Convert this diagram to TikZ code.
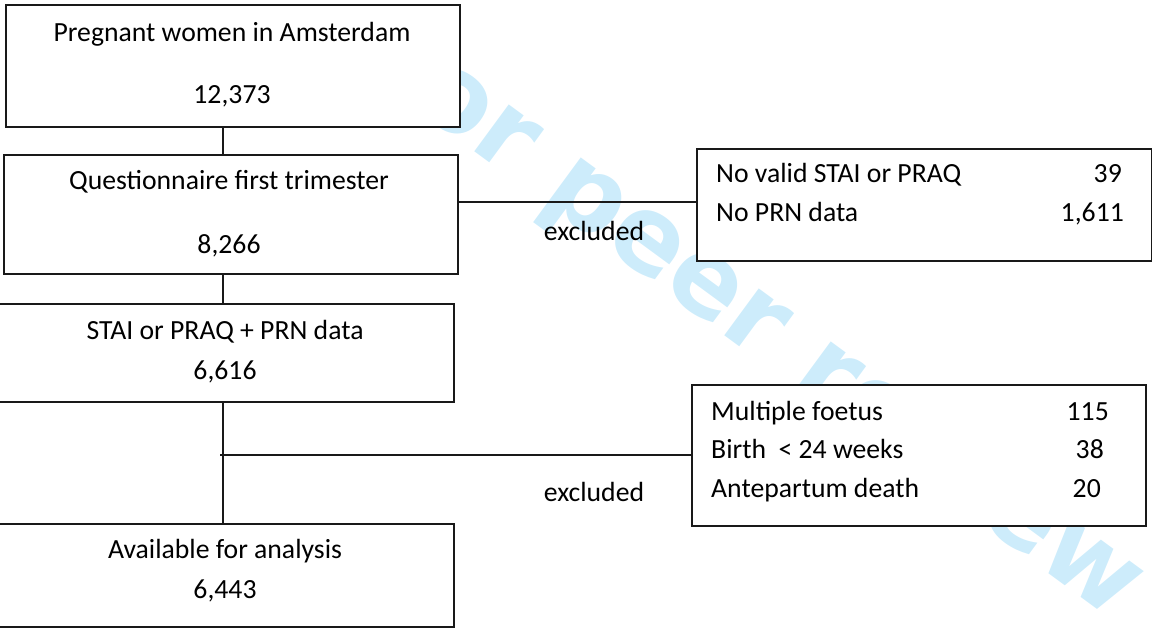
\documentclass[tikz,border=0pt]{standalone}
\usepackage{fontspec}
\setmainfont{Carlito}
\newfontfamily\wmfont{DejaVu Sans}
\definecolor{wm}{RGB}{205,236,251}
\definecolor{ln}{RGB}{25,25,25}
\begin{document}
\begin{tikzpicture}[x=1pt,y=-1pt,
  box/.style={draw=ln, line width=1.6pt, fill=white, inner sep=0pt, anchor=north west},
  txt/.style={inner sep=0pt, font=\fontsize{27.7}{33}\selectfont},
  conn/.style={draw=ln, line width=1.4pt}]
\useasboundingbox (0,0) rectangle (1152,631);
% watermark
\node[rotate=-36.3, text=wm, inner sep=0pt, font=\wmfont\bfseries\fontsize{106.5}{110}\selectfont] (wmark) at (868,405) {For peer review only};
% main column boxes
\node[box, minimum width=454pt, minimum height=122pt] (b1) at (5,4) {};
\node[box, minimum width=454pt, minimum height=119pt] (b2) at (3,154) {};
\node[box, minimum width=457pt, minimum height=98pt] (b3) at (-4,303) {};
\node[box, minimum width=457pt, minimum height=103pt] (b4) at (-4,523) {};
% exclusion boxes
\node[box, minimum width=455pt, minimum height=112pt] (r1) at (696,148) {};
\node[box, minimum width=454pt, minimum height=141pt] (r2) at (691,384) {};
% texts
\node[txt, anchor=base] (t1a) at (232,42) {Pregnant women in Amsterdam};
\node[txt, anchor=base] (t1b) at (232,104) {12,373};
\node[txt, anchor=base] (t2a) at (229,190) {Questionnaire first trimester};
\node[txt, anchor=base] (t2b) at (229,254) {8,266};
\node[txt, anchor=base] (t3a) at (225,339) {STAI or PRAQ + PRN data};
\node[txt, anchor=base] (t3b) at (225,379) {6,616};
\node[txt, anchor=base] (t4a) at (225,558) {Available for analysis};
\node[txt, anchor=base] (t4b) at (225,598) {6,443};
\node[txt, anchor=base west] (r1a) at (716,183) {No valid STAI or PRAQ};
\node[txt, anchor=base east] (r1an) at (1122,183) {39};
\node[txt, anchor=base west] (r1b) at (716,222) {No PRN data};
\node[txt, anchor=base east] (r1bn) at (1124,222) {1,611};
\node[txt, anchor=base west] (r2a) at (711,420) {Multiple foetus};
\node[txt, anchor=base east] (r2an) at (1109,420) {115};
\node[txt, anchor=base west] (r2b) at (711,458) {Birth~~< 24 weeks};
\node[txt, anchor=base east] (r2bn) at (1104,458) {38};
\node[txt, anchor=base west] (r2c) at (711,497) {Antepartum death};
\node[txt, anchor=base east] (r2cn) at (1101,497) {20};
\node[txt, anchor=base] (ex1) at (594,241) {excluded};
\node[txt, anchor=base] (ex2) at (594,501) {excluded};
% connectors
\coordinate (spine) at (223,0);
\coordinate (j1) at (457,202);
\coordinate (j2) at (220,455);
\draw[conn] (b1.south -| spine) -- (b2.north -| spine);
\draw[conn] (b2.south -| spine) -- (b3.north -| spine);
\draw[conn] (b3.south -| spine) -- (b4.north -| spine);
\draw[conn] (j1) -- (j1 -| r1.west);
\draw[conn] (j2) -- (j2 -| r2.west);
\end{tikzpicture}
\end{document}
